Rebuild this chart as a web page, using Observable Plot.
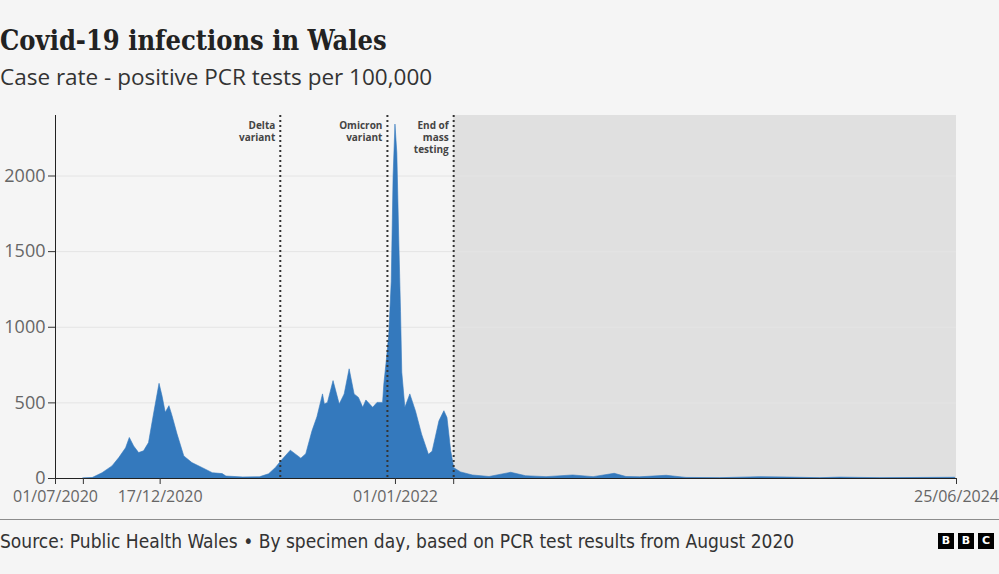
<!DOCTYPE html>
<html>
<head>
<meta charset="utf-8">
<script src="https://cdn.jsdelivr.net/npm/d3@7"></script>
<script src="https://cdn.jsdelivr.net/npm/@observablehq/plot@0.6"></script>
<style>
  html, body { margin: 0; padding: 0; }
  body { background: #f5f5f5; width: 999px; height: 574px; overflow: hidden; position: relative; font-family: "Open Sans", sans-serif; }
  #title { position: absolute; left: 0; top: 26px; font-family: "DejaVu Serif Condensed", "DejaVu Serif", serif; font-weight: bold; font-size: 27px; line-height: 30px; color: #222; white-space: nowrap; }
  #subtitle { position: absolute; left: 0; top: 62px; font-family: "Open Sans", sans-serif; font-size: 22.5px; line-height: 30px; color: #333; white-space: nowrap; }
  #chart { position: absolute; left: 0; top: 100px; }
  #rule { position: absolute; left: 0; top: 519px; width: 999px; height: 1px; background: #8c8c8c; }
  #source { position: absolute; left: 0; top: 528px; font-family: "DejaVu Sans Condensed", sans-serif; font-size: 19px; line-height: 26px; color: #333; white-space: nowrap; }
  #logo { position: absolute; left: 938px; top: 533px; display: flex; gap: 4px; }
  #logo span { width: 16px; height: 16px; background: #000; color: #fff; font-family: "DejaVu Sans", sans-serif; font-weight: bold; font-size: 11px; line-height: 16px; text-align: center; display: block; }
</style>
</head>
<body>
<div id="title">Covid-19 infections in Wales</div>
<div id="subtitle">Case rate - positive PCR tests per 100,000</div>
<div id="chart"></div>
<div id="rule"></div>
<div id="source">Source: Public Health Wales • By specimen day, based on PCR test results from August 2020</div>
<div id="logo"><span>B</span><span>B</span><span>C</span></div>
<script>
// Daily case rate (per 100,000)
const dates = [
  "2020-08-15","2020-08-30","2020-09-15","2020-10-01","2020-10-12","2020-10-23","2020-10-29",
  "2020-11-05","2020-11-13","2020-11-21","2020-11-29","2020-12-08","2020-12-16","2020-12-21",
  "2020-12-26","2021-01-01","2021-01-06","2021-01-14","2021-01-25","2021-02-07","2021-02-24",
  "2021-03-12","2021-03-28","2021-04-03","2021-04-30","2021-05-27","2021-06-11","2021-06-22",
  "2021-06-30","2021-07-16","2021-08-02","2021-08-10","2021-08-20","2021-08-28","2021-09-06",
  "2021-09-09","2021-09-14","2021-09-23","2021-10-03","2021-10-11","2021-10-19","2021-10-27",
  "2021-11-03","2021-11-10","2021-11-15","2021-11-26","2021-12-03","2021-12-12","2021-12-14",
  "2021-12-18","2021-12-22","2021-12-26","2021-12-29","2022-01-01","2022-01-04","2022-01-07",
  "2022-01-10","2022-01-12","2022-01-17","2022-01-25","2022-02-03","2022-02-13","2022-02-24",
  "2022-03-02","2022-03-13","2022-03-21","2022-03-26","2022-04-01","2022-04-06","2022-04-17",
  "2022-05-06","2022-06-02","2022-07-07","2022-07-31","2022-09-02","2022-10-15","2022-11-17",
  "2022-12-21","2023-01-09","2023-01-31","2023-03-15","2023-04-16","2023-06-09","2023-08-13",
  "2023-09-30","2023-11-18","2023-12-20","2024-01-22","2024-02-23","2024-06-23"
];
const values = [
  0, 3, 35, 80, 135, 200, 268,
  212, 168, 180, 234, 445, 626, 540,
  434, 478, 412, 292, 146, 102, 68,
  35, 29, 13, 7, 8, 28, 70,
  110, 184, 131, 161, 312, 405, 556,
  489, 500, 644, 489, 556, 722, 556,
  533, 467, 516, 467, 500, 500, 622,
  777, 950, 1300, 2000, 2340, 2150, 1600,
  1100, 700, 467, 556, 445, 290, 157,
  177, 378, 445, 400, 180, 68, 40,
  20, 10, 38, 15, 9, 20, 9,
  31, 10, 8, 18, 4, 2, 9,
  6, 2, 6, 4, 2, 5
];

// Annotated events
const eventNames = ["Delta\nvariant", "Omicron\nvariant", "End of\nmass\ntesting"];
const eventDates = ["2021-06-29", "2021-12-19", "2022-04-05"];

// Axis ticks
const xStart = "2020-07-01";
const xEnd = "2024-06-25";
const tickDates = ["2020-07-01", "2020-08-15", "2020-12-17", "2022-01-01", "2022-04-05", "2024-06-25"];
const tickLabels = ["01/07/2020", "", "17/12/2020", "01/01/2022", "", "25/06/2024"];
const yTicks = [0, 500, 1000, 1500, 2000];
const yMax = 2400;

const parse = s => new Date(s + "T00:00:00Z");
const data = dates.map((d, i) => ({date: parse(d), value: values[i]}));
const events = eventDates.map((d, i) => ({date: parse(d), name: eventNames[i]}));
const labelMap = new Map(tickDates.map((d, i) => [+parse(d), tickLabels[i]]));

const chart = Plot.plot({
  width: 999,
  height: 415,
  marginTop: 15,
  marginBottom: 37,
  marginLeft: 55,
  marginRight: 43,
  style: {background: "transparent", fontFamily: "'Open Sans', sans-serif", color: "#333"},
  x: {type: "utc", domain: [parse(xStart), parse(xEnd)], label: null},
  y: {domain: [0, yMax], label: null},
  marks: [
    Plot.rect([{a: parse(eventDates[2]), b: parse(xEnd)}], {x1: "a", x2: "b", y1: 0, y2: yMax, fill: "#e0e0e0"}),
    Plot.gridY(yTicks.slice(1), {stroke: "#e4e4e4", strokeOpacity: 1}),
    Plot.areaY(data, {x: "date", y: "value", fill: "#3479bd", stroke: "#3479bd", strokeWidth: 0.6, curve: "linear"}),
    Plot.ruleX(events, {x: "date", stroke: "#333", strokeWidth: 2, strokeDasharray: "2,3"}),
    Plot.text(events, {x: "date", frameAnchor: "top", text: "name", textAnchor: "end", lineAnchor: "top", dx: -5, dy: 5, fontSize: 10, fontWeight: "bold", fill: "#444", lineHeight: 1.2}),
    Plot.ruleX([parse(xStart)], {stroke: "#222"}),
    Plot.ruleY([0], {stroke: "#222"}),
    Plot.axisY(yTicks, {tickSize: 7, tickPadding: 3, fontSize: 18, fill: "#666", stroke: "#333", tickFormat: d => String(d), label: null}),
    Plot.axisX(tickDates.map(parse), {tickSize: 6, tickPadding: 6, fontSize: 16, fill: "#666", stroke: "#333", tickFormat: d => labelMap.get(+d), label: null})
  ]
});
document.getElementById("chart").appendChild(chart);
</script>
</body>
</html>
